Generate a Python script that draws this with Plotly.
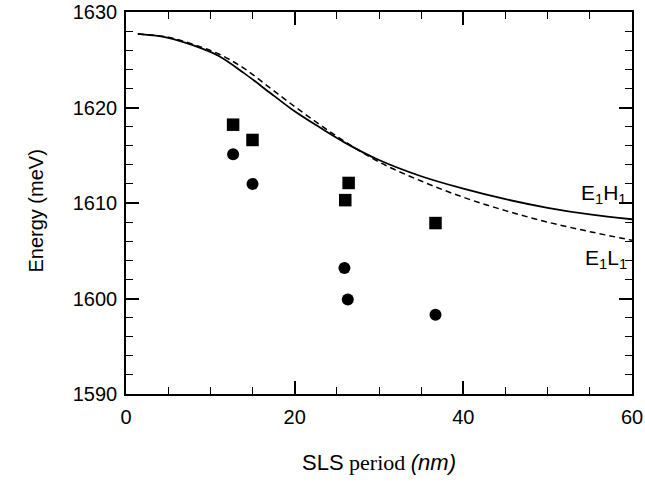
import plotly.graph_objects as go

# theory curves (SLS period in nm, energy in meV)
period_curve = [1.4, 5, 8, 11, 14, 17, 20, 23, 26, 30, 35, 40, 45, 50, 55, 60]
e1h1 = [1627.7, 1627.3, 1626.5, 1625.4, 1623.6, 1621.6, 1619.6, 1617.9,
        1616.3, 1614.5, 1612.8, 1611.5, 1610.4, 1609.5, 1608.8, 1608.3]
e1l1 = [1627.7, 1627.35, 1626.6, 1625.6, 1624.1, 1622.1, 1620.1, 1618.2,
        1616.4, 1614.3, 1612.3, 1610.6, 1609.2, 1608.0, 1607.0, 1606.1]

# measured points
sq_period = [12.7, 15.0, 26.4, 26.0, 36.7]
sq_energy = [1618.2, 1616.6, 1612.1, 1610.3, 1607.9]
ci_period = [12.7, 15.0, 25.9, 26.3, 36.7]
ci_energy = [1615.1, 1612.0, 1603.2, 1599.9, 1598.3]

fig = go.Figure()
fig.add_trace(go.Scatter(x=period_curve, y=e1l1, mode="lines", line_shape="spline",
                         line=dict(color="black", width=1.5, dash="6px,4px")))
fig.add_trace(go.Scatter(x=period_curve, y=e1h1, mode="lines", line_shape="spline",
                         line=dict(color="black", width=1.8)))
fig.add_trace(go.Scatter(x=sq_period, y=sq_energy, mode="markers",
                         marker=dict(symbol="square", size=12.5, color="black")))
fig.add_trace(go.Scatter(x=ci_period, y=ci_energy, mode="markers",
                         marker=dict(symbol="circle", size=12, color="black")))

font_sans = "Liberation Sans, Arial, sans-serif"

fig.add_annotation(x=59.6, y=1610.9, xanchor="right", yanchor="middle", showarrow=False,
                   text="E<sub>1</sub>H<sub>1</sub>", font=dict(size=21, color="black", family=font_sans))
fig.add_annotation(x=59.6, y=1604.1, xanchor="right", yanchor="middle", showarrow=False,
                   text="E<sub>1</sub>L<sub>1</sub>", font=dict(size=21, color="black", family=font_sans))

# axis titles placed as annotations
fig.add_annotation(xref="paper", yref="paper", x=-0.178, y=0.48, textangle=-90,
                   xanchor="center", yanchor="middle", showarrow=False, text="Energy (meV)",
                   font=dict(size=20, color="black", family=font_sans))
fig.add_annotation(xref="paper", yref="paper", x=0.5, y=-0.18,
                   xanchor="center", yanchor="middle", showarrow=False,
                   text='SLS<span style="font-family:Liberation Serif, Times New Roman, serif"> period </span><i>(nm)</i>',
                   font=dict(size=22, color="black", family=font_sans))

axis_common = dict(showline=True, linecolor="black", linewidth=1.5, mirror="ticks",
                   ticks="inside", ticklen=13, tickwidth=1.5, tickcolor="black",
                   showgrid=False, zeroline=False, automargin=False,
                   tickfont=dict(size=20, family=font_sans, color="black"))

fig.update_layout(
    width=645, height=494,
    margin=dict(l=126, r=13, t=12, b=100),
    paper_bgcolor="white", plot_bgcolor="white",
    showlegend=False,
    font=dict(family=font_sans, size=20, color="black"),
    xaxis=dict(range=[0, 60], dtick=20, tick0=0, ticklabelstandoff=4,
               minor=dict(dtick=5, ticks="inside", ticklen=7, tickwidth=1.2, tickcolor="black"),
               **axis_common),
    yaxis=dict(range=[1590, 1630], dtick=10, tick0=1590, ticklabelstandoff=3,
               minor=dict(dtick=2, ticks="inside", ticklen=7, tickwidth=1.2, tickcolor="black"),
               **axis_common),
)

# drop the default 8px page margin so the figure sits at the window origin
fig.write_html("out.html", config={"displayModeBar": False},
               post_script="document.body.style.margin='0px';")
